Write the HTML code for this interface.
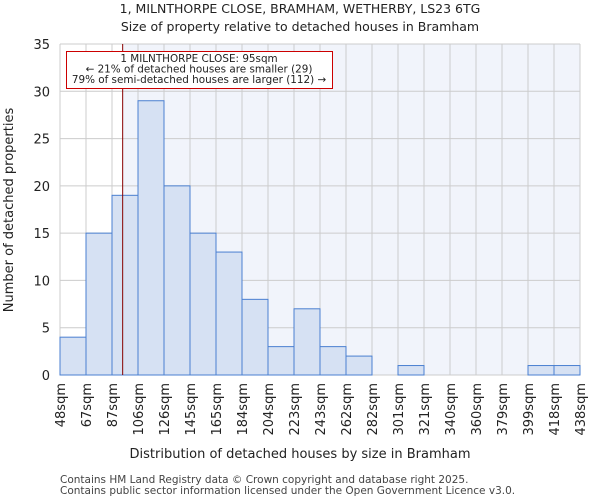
<!DOCTYPE html>
<html><head><meta charset="utf-8"><style>body{margin:0;background:#fff}svg{display:block;font-family:"DejaVu Sans","Liberation Sans",sans-serif}</style></head>
<body>
<svg id="chart" width="600" height="500" viewBox="0 0 600 500">
<text x="300" y="13" text-anchor="middle" font-size="12.5" fill="#222">1, MILNTHORPE CLOSE, BRAMHAM, WETHERBY, LS23 6TG</text>
<text x="300" y="31" text-anchor="middle" font-size="12.5" fill="#222">Size of property relative to detached houses in Bramham</text>
<g id="plot"></g>
<text x="300" y="458" text-anchor="middle" font-size="13" fill="#222">Distribution of detached houses by size in Bramham</text>
<text transform="translate(13,210) rotate(-90)" text-anchor="middle" font-size="13" fill="#222">Number of detached properties</text>
<text x="60" y="483" font-size="10.5" fill="#444">Contains HM Land Registry data © Crown copyright and database right 2025.</text>
<text x="60" y="494" font-size="10.5" fill="#444">Contains public sector information licensed under the Open Government Licence v3.0.</text>
</svg>
<script>
const categories=["48sqm","67sqm","87sqm","106sqm","126sqm","145sqm","165sqm","184sqm","204sqm","223sqm","243sqm","262sqm","282sqm","301sqm","321sqm","340sqm","360sqm","379sqm","399sqm","418sqm","438sqm"];
const binStarts=[48,67.5,87,106.5,126,145.5,165,184.5,204,223.5,243,262.5,282,301.5,321,340.5,360,379.5,399,418.5,438];
const counts=[4,15,19,29,20,15,13,8,3,7,3,2,0,1,0,0,0,0,1,1];
const yTicks=[0,5,10,15,20,25,30,35];
const markerValue=95;
const NS="http://www.w3.org/2000/svg";
const L=60,R=580,T=44,B=375,yMax=35;
const xMin=binStarts[0],xMaxV=binStarts[binStarts.length-1];
const xs=v=>L+(v-xMin)/(xMaxV-xMin)*(R-L);
const ys=v=>B-v/yMax*(B-T);
const g=document.getElementById('plot');
function mk(tag,attrs){const e=document.createElementNS(NS,tag);for(const k in attrs)e.setAttribute(k,attrs[k]);g.appendChild(e);return e;}
const mx=xs(markerValue);
let e=mk('rect',{x:L,y:T,width:R-L,height:B-T,fill:'#fff'});


e=mk('rect',{x:mx,y:T,width:R-mx,height:B-T,fill:'#f1f4fb'});


yTicks.forEach(t=>{
 const l=mk('line',{x1:L,x2:R,y1:ys(t),y2:ys(t),stroke:'#ccc','stroke-width':1});
 
 
 const tx=mk('text',{x:L-10,y:ys(t)+5,'text-anchor':'end','font-size':13,fill:'#222'});
 tx.textContent=t;
 
 
});
binStarts.forEach((b,i)=>{
 const l=mk('line',{x1:xs(b),x2:xs(b),y1:T,y2:B,stroke:'#ccc','stroke-width':1});
 
 
 const x=xs(b);
 const tx=mk('text',{x:x+5,y:B+8,'text-anchor':'end','font-size':13,fill:'#222',transform:`rotate(-90 ${x+5} ${B+8})`});
 tx.textContent=categories[i];
 
 
});
counts.forEach((c,i)=>{
 if(c<=0)return;
 const x0=xs(binStarts[i]),x1=xs(binStarts[i+1]);
 const r=mk('rect',{x:x0,y:ys(c),width:x1-x0,height:B-ys(c),fill:'#d6e1f3',stroke:'#4a7fd0','stroke-width':1});
 
 
});
e=mk('line',{x1:mx,x2:mx,y1:T,y2:B,stroke:'#800','stroke-width':1});


e=mk('rect',{x:66.5,y:51.5,width:266,height:37,fill:'#fff',stroke:'#c00','stroke-width':1});


["1 MILNTHORPE CLOSE: 95sqm","← 21% of detached houses are smaller (29)","79% of semi-detached houses are larger (112) →"].forEach((s,i)=>{
 const t=mk('text',{x:199,y:62+i*10.5,'text-anchor':'middle','font-size':10.4,fill:'#222'});
 t.textContent=s;
 
 
});
</script>
</body></html>
